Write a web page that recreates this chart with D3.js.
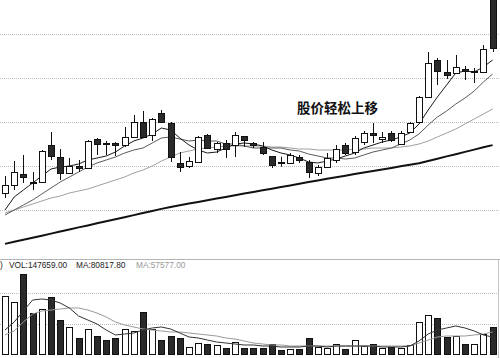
<!DOCTYPE html>
<html><head><meta charset="utf-8">
<script src="https://cdn.jsdelivr.net/npm/d3@7"></script>
<style>html,body{margin:0;padding:0;background:#fff;}svg{display:block;}</style>
</head><body>
<svg id="c" width="500" height="358"></svg>
<script>
const days = d3.range(1, 55);
const opens  = [10.70,11.50,12.60,11.80,11.80,15.50,14.30,12.70,13.40,13.20,16.10,15.70,15.70,15.50,16.30,17.80,16.50,18.70,17.70,13.70,13.40,13.80,16.50,15.10,15.70,15.50,16.40,15.70,15.30,14.40,13.80,13.70,14.30,13.80,12.70,13.30,14.00,15.50,14.80,15.80,16.70,16.10,16.70,15.60,16.80,17.80,20.30,24.00,22.80,22.70,23.10,22.85,22.80,31.00];
const closes = [11.50,12.80,12.30,11.75,14.90,14.40,12.70,13.40,13.20,15.90,15.60,15.65,15.50,16.30,17.80,16.30,18.10,17.80,14.30,13.30,13.90,16.30,15.20,15.70,15.10,16.50,16.00,15.50,14.70,13.50,13.75,14.50,14.00,12.80,13.30,14.20,15.10,14.70,16.20,16.70,16.50,16.30,16.00,16.70,17.70,20.30,23.70,22.90,22.50,23.30,22.90,22.90,25.10,25.20];
const highs  = [12.40,13.90,14.50,12.80,15.00,16.80,15.10,14.20,14.00,16.00,16.20,15.90,15.80,17.30,18.50,18.90,18.20,19.00,17.80,14.80,14.30,16.40,16.60,15.80,16.00,16.80,16.40,15.80,15.80,14.40,14.33,14.70,14.50,14.00,13.50,14.70,15.50,15.70,16.40,16.90,17.70,16.80,16.90,16.90,17.80,20.40,24.80,24.20,24.00,24.50,23.40,23.20,25.50,31.50];
const lows   = [10.20,11.00,11.70,11.00,11.70,14.00,12.00,12.60,12.80,13.20,14.50,14.50,14.40,15.30,16.20,16.20,15.90,17.70,13.80,12.80,13.20,13.70,15.10,14.70,14.20,14.30,15.30,15.20,14.50,13.20,13.33,13.60,13.70,12.20,12.40,13.20,13.70,14.50,14.50,15.50,15.70,15.70,15.80,15.50,16.70,17.70,20.30,21.50,22.10,22.70,22.00,21.70,22.70,24.80];
const ma5  = [9.0,10.3,11.0,11.7,12.4,13.1,13.3,13.4,13.6,14.0,14.2,14.4,14.8,15.4,15.9,16.2,16.6,17.2,17.0,16.2,15.5,15.0,14.7,14.8,15.2,15.6,15.7,15.6,15.4,15.0,14.7,14.5,14.2,13.8,13.7,13.9,14.1,14.4,14.7,15.2,15.5,15.8,16.0,16.3,16.7,17.6,19.0,20.3,21.5,22.7,22.9,22.8,23.3,24.0];
const ma10 = [8.5,9.0,9.5,10.0,10.6,11.2,11.8,12.3,12.8,13.3,13.7,14.0,14.3,14.7,15.0,15.2,15.7,16.2,16.3,16.1,15.9,16.0,15.9,15.9,15.6,15.6,15.4,15.2,15.2,15.2,15.2,15.0,14.9,14.6,14.4,14.2,14.2,14.1,14.2,14.5,14.8,15.0,15.2,15.6,16.0,16.6,17.5,18.3,18.9,19.6,20.2,20.9,21.8,22.6];
const ma20 = [8.7,9.0,9.3,9.6,9.9,10.2,10.4,10.7,10.9,11.1,11.4,11.7,12.0,12.3,12.7,13.0,13.4,13.9,14.3,14.7,14.9,15.1,15.2,15.3,15.4,15.4,15.4,15.4,15.4,15.3,15.3,15.2,15.1,15.1,15.0,15.0,15.0,15.0,15.1,15.1,15.2,15.2,15.2,15.3,15.4,15.6,15.9,16.3,16.7,17.1,17.6,18.1,18.6,19.1];
const ma60 = [5.61,5.82,6.02,6.23,6.43,6.64,6.85,7.05,7.26,7.46,7.67,7.87,8.08,8.28,8.49,8.70,8.90,9.11,9.31,9.48,9.64,9.81,9.97,10.14,10.30,10.47,10.64,10.80,10.97,11.13,11.30,11.46,11.63,11.79,11.96,12.12,12.28,12.43,12.59,12.74,12.90,13.06,13.21,13.37,13.53,13.68,13.90,14.13,14.36,14.58,14.81,15.04,15.27,15.49];
const volumes = [320700,289200,442400,228400,247200,316900,188000,151000,86800,136600,99500,77400,90100,139900,128800,233900,136600,77400,99500,90100,37000,59200,53600,49800,34800,68000,34800,34800,34800,55300,22100,27700,27700,86800,40400,34800,55300,29300,77400,45900,53600,34800,38700,34800,49800,175300,215700,200700,92400,99500,55300,53600,108900,147659];
const volMa5 = [132700,177000,237800,298600,304200,298600,282000,254400,210100,188000,165900,132700,105100,110600,116100,132700,143800,149300,138300,116100,94000,88500,77400,66400,60800,55300,49800,49800,44200,44200,38700,38700,38700,44200,44200,38700,44200,44200,44200,44200,44200,38700,38700,38700,44200,71900,110600,132700,143800,154800,143800,127200,105100,94000];
const volMa10 = [105100,127200,177000,221200,237800,243300,248900,254400,254400,243300,226700,204600,177000,160400,149300,138300,132700,127200,121700,121700,116100,110600,105100,99500,88500,83000,71900,60800,55300,49800,49800,44200,44200,44200,44200,44200,44200,44200,44200,44200,44200,44200,44200,44200,44200,60800,77400,94000,99500,99500,99500,105100,110600,121700];
const priceTicks = [26.6, 22.2, 17.8, 13.4, 9.0];
const volTicks = [165900, 337300];
const annotation = "股价轻松上移";
const volLegend = [")", "VOL:147659.00", "MA:80817.80", "MA:57577.00"];

const svg = d3.select("#c");
const W = 500;
const x = d3.scalePoint().domain(days).range([5, 492.6]);
const y = d3.scaleLinear().domain([30, 4.5]).range([0, 255]);
const yv = d3.scaleLinear().domain([0, 525350]).range([354, 259]);
const cx = i => Math.round(x(days[i]));

const defs = svg.append("defs");
defs.append("clipPath").attr("id","cm").append("rect").attr("x",0).attr("y",0).attr("width",W).attr("height",256);
defs.append("clipPath").attr("id","cv").append("rect").attr("x",0).attr("y",260).attr("width",497).attr("height",98);

// grids
svg.append("g").selectAll("line").data(priceTicks).join("line")
  .attr("x1",0).attr("x2",W).attr("y1",d=>Math.round(y(d))+0.5).attr("y2",d=>Math.round(y(d))+0.5)
  .attr("stroke","#bdbdbd").attr("stroke-dasharray","1,1");
svg.append("g").selectAll("line").data(volTicks).join("line")
  .attr("x1",0).attr("x2",W).attr("y1",d=>Math.round(yv(d))+0.5).attr("y2",d=>Math.round(yv(d))+0.5)
  .attr("stroke","#bdbdbd").attr("stroke-dasharray","1,1");
svg.append("line").attr("x1",0).attr("x2",W).attr("y1",259.5).attr("y2",259.5).attr("stroke","#b4b4b4");
svg.append("line").attr("x1",498.5).attr("x2",498.5).attr("y1",260).attr("y2",358).attr("stroke","#c4c4c4");

// MA lines
const main = svg.append("g").attr("clip-path","url(#cm)");
const lineP = arr => d3.line().x((d,i)=>x(days[i])).y(d=>y(d))(arr);
main.append("path").attr("d",lineP(ma60)).attr("fill","none").attr("stroke","#111").attr("stroke-width",2);
main.append("path").attr("d",lineP(ma20)).attr("fill","none").attr("stroke","#a0a0a0").attr("stroke-width",1);
main.append("path").attr("d",lineP(ma10)).attr("fill","none").attr("stroke","#5a5a5a").attr("stroke-width",1);
main.append("path").attr("d",lineP(ma5)).attr("fill","none").attr("stroke","#1a1a1a").attr("stroke-width",1);

// candles
const cg = main.append("g");
days.forEach((dd,i)=>{
  const xc = cx(i);
  const up = closes[i] >= opens[i];
  cg.append("line").attr("x1",xc+0.5).attr("x2",xc+0.5)
    .attr("y1",y(highs[i])).attr("y2",y(lows[i])).attr("stroke","#111");
  const top = y(Math.max(opens[i],closes[i])), bot = y(Math.min(opens[i],closes[i]));
  cg.append("rect").attr("x",xc-2.5).attr("y",Math.round(top)+0.5)
    .attr("width",6).attr("height",Math.max(1,Math.round(bot-top)))
    .attr("fill", up ? "#fff" : "#2a2a2a").attr("stroke","#111");
});

// annotation
svg.append("text").attr("x",297).attr("y",113).text(annotation)
  .attr("font-family","'Noto Sans CJK SC'").attr("font-weight","bold").attr("font-size",13.5).attr("fill","#111");

// volume
const vg = svg.append("g").attr("clip-path","url(#cv)");
days.forEach((dd,i)=>{
  const xc = cx(i);
  const up = closes[i] >= opens[i];
  const t = Math.round(yv(volumes[i]));
  vg.append("rect").attr("x",xc-2.5).attr("y",t+0.5).attr("width",6).attr("height",354-t)
    .attr("fill", up ? "#fff" : "#2a2a2a").attr("stroke","#111");
});
const lineV = arr => d3.line().x((d,i)=>x(days[i])).y(d=>yv(d))(arr);
vg.append("path").attr("d",lineV(volMa10)).attr("fill","none").attr("stroke","#9a9a9a");
vg.append("path").attr("d",lineV(volMa5)).attr("fill","none").attr("stroke","#333");

const lx = [0, 9, 76, 136];
const lc = ["#222","#222","#222","#9a9a9a"];
svg.append("g").selectAll("text").data(volLegend).join("text")
  .attr("x",(d,i)=>lx[i]).attr("y",268).text(d=>d)
  .attr("font-family","'Liberation Sans', Arial, sans-serif").attr("font-size",8.3).attr("fill",(d,i)=>lc[i]);
</script>
</body></html>
